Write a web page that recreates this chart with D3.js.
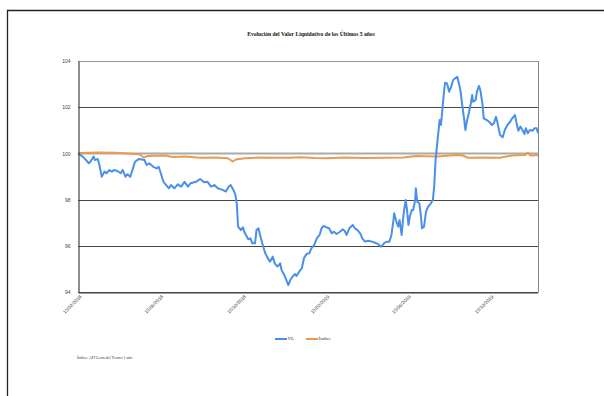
<!DOCTYPE html>
<html>
<head>
<meta charset="utf-8">
<script src="https://cdn.jsdelivr.net/npm/d3@7"></script>
<style>
  body { margin: 0; background: #fff; }
  svg { display: block; }
</style>
</head>
<body>
<script>
// chart data
const title = "Evolución del Valor Liquidativo de los Últimos 5 años";
const footnote = "Índice: AFI Letra del Tesoro 1 año";
const seriesNames = ["VL", "Índice"];
const yTicks = [94, 96, 98, 100, 102, 104];
const xTickDates = ["2018-02-15", "2018-06-15", "2018-10-15", "2019-02-15", "2019-06-15", "2019-10-15"];

const vlDates = [
  "2018-02-15","2018-02-22","2018-02-27","2018-03-03","2018-03-06","2018-03-10","2018-03-12","2018-03-16","2018-03-18","2018-03-22",
  "2018-03-26","2018-03-29","2018-04-02","2018-04-06","2018-04-09","2018-04-14","2018-04-19","2018-04-22","2018-04-26","2018-04-29",
  "2018-05-03","2018-05-07","2018-05-10","2018-05-16","2018-05-24","2018-05-27","2018-05-31","2018-06-06","2018-06-11","2018-06-14",
  "2018-06-17","2018-06-21","2018-06-25","2018-06-29","2018-07-02","2018-07-07","2018-07-12","2018-07-17","2018-07-22","2018-07-27",
  "2018-07-31","2018-08-08","2018-08-14","2018-08-20","2018-08-25","2018-08-30","2018-09-04","2018-09-09","2018-09-16","2018-09-21",
  "2018-09-25","2018-09-28","2018-10-02","2018-10-05","2018-10-07","2018-10-09","2018-10-13","2018-10-16","2018-10-19","2018-10-24",
  "2018-10-27","2018-10-30","2018-11-03","2018-11-05","2018-11-08","2018-11-11","2018-11-15","2018-11-18","2018-11-21","2018-11-25",
  "2018-11-29","2018-12-02","2018-12-06","2018-12-10","2018-12-12","2018-12-16","2018-12-20","2018-12-22","2018-12-25","2018-12-28",
  "2019-01-01","2019-01-03","2019-01-07","2019-01-11","2019-01-14","2019-01-18","2019-01-22","2019-01-25","2019-01-29","2019-02-02",
  "2019-02-06","2019-02-09","2019-02-12","2019-02-16","2019-02-20","2019-02-24","2019-02-27","2019-03-03","2019-03-08","2019-03-12",
  "2019-03-15","2019-03-18","2019-03-22","2019-03-27","2019-03-30","2019-04-03","2019-04-07","2019-04-10","2019-04-14","2019-04-19",
  "2019-04-24","2019-04-29","2019-05-03","2019-05-08","2019-05-12","2019-05-16","2019-05-20","2019-05-23","2019-05-26","2019-05-27",
  "2019-05-30","2019-06-02","2019-06-04","2019-06-07","2019-06-10","2019-06-13","2019-06-15","2019-06-17","2019-06-19","2019-06-22",
  "2019-06-24","2019-06-27","2019-06-28","2019-06-30","2019-07-03","2019-07-05","2019-07-07","2019-07-10","2019-07-13","2019-07-16",
  "2019-07-20","2019-07-23","2019-07-25","2019-07-27","2019-07-29","2019-08-01","2019-08-02","2019-08-04","2019-08-06","2019-08-08",
  "2019-08-10","2019-08-13","2019-08-16","2019-08-19","2019-08-22","2019-08-25","2019-08-28","2019-08-31","2019-09-02","2019-09-04",
  "2019-09-07","2019-09-09","2019-09-11","2019-09-14","2019-09-17","2019-09-19","2019-09-20","2019-09-24","2019-09-26","2019-09-29",
  "2019-10-01","2019-10-04","2019-10-06","2019-10-10","2019-10-14","2019-10-18","2019-10-21","2019-10-24","2019-10-26","2019-10-30",
  "2019-11-03","2019-11-06","2019-11-10","2019-11-14","2019-11-17","2019-11-21","2019-11-23","2019-11-26","2019-11-29","2019-12-02",
  "2019-12-05","2019-12-07","2019-12-10","2019-12-13","2019-12-17","2019-12-20","2019-12-23","2019-12-25"
];
const vlValues = [
  100.00, 99.86, 99.71, 99.57, 99.67, 99.86, 99.71, 99.76, 99.57, 98.99,
  99.21, 99.14, 99.28, 99.21, 99.28, 99.24, 99.14, 99.28, 98.99, 99.10,
  98.99, 99.35, 99.64, 99.76, 99.71, 99.50, 99.57, 99.42, 99.35, 99.42,
  99.14, 98.77, 98.63, 98.49, 98.63, 98.49, 98.66, 98.56, 98.77, 98.56,
  98.71, 98.77, 98.89, 98.75, 98.77, 98.56, 98.63, 98.49, 98.42, 98.35,
  98.56, 98.63, 98.42, 98.20, 97.84, 96.83, 96.68, 96.80, 96.54, 96.28,
  96.32, 96.11, 96.11, 96.68, 96.76, 96.39, 95.96, 95.68, 95.50, 95.31,
  95.53, 95.24, 95.10, 95.24, 94.95, 94.74, 94.45, 94.30, 94.52, 94.66,
  94.78, 94.69, 94.88, 95.03, 95.46, 95.65, 95.68, 95.89, 96.03, 96.32,
  96.47, 96.76, 96.86, 96.80, 96.76, 96.54, 96.61, 96.51, 96.61, 96.71,
  96.65, 96.47, 96.76, 96.90, 96.76, 96.68, 96.54, 96.32, 96.18, 96.22,
  96.18, 96.13, 96.08, 95.96, 96.11, 96.18, 96.18, 96.47, 97.12, 97.41,
  97.07, 96.83, 97.12, 96.47, 97.41, 97.98, 97.55, 96.90, 97.26, 97.55,
  97.55, 97.98, 98.49, 97.91, 97.84, 97.41, 96.76, 96.83, 97.48, 97.69,
  97.84, 97.98, 98.56, 99.71, 100.29, 101.16, 101.45, 101.23, 101.88, 102.53,
  103.06, 103.03, 102.67, 102.89, 103.18, 103.25, 103.32, 102.96, 102.67, 102.17,
  101.52, 101.01, 101.37, 101.74, 102.17, 102.53, 102.24, 102.31, 102.67, 102.92,
  102.74, 102.17, 101.52, 101.45, 101.37, 101.23, 101.30, 101.59, 101.37, 100.80,
  100.70, 101.01, 101.23, 101.37, 101.52, 101.66, 101.37, 100.98, 101.16, 101.01,
  100.84, 101.09, 100.87, 101.01, 100.98, 101.09, 101.09, 100.87
];

const idxDates = [
  "2018-02-15","2018-03-19","2018-04-12","2018-05-10","2018-05-17","2018-05-23","2018-05-29","2018-06-07","2018-06-23","2018-07-05",
  "2018-07-23","2018-08-14","2018-09-05","2018-09-24","2018-10-01","2018-10-06","2018-10-19","2018-11-10","2018-12-02","2018-12-23",
  "2019-01-08","2019-01-30","2019-02-17","2019-03-15","2019-04-15","2019-05-13","2019-06-10","2019-06-28","2019-07-29","2019-08-27",
  "2019-09-04","2019-09-13","2019-09-30","2019-10-30","2019-11-16","2019-12-06","2019-12-10","2019-12-14","2019-12-25"
];
const idxValues = [
  100.02, 100.04, 100.03, 99.97, 99.95, 99.82, 99.89, 99.90, 99.91, 99.84,
  99.87, 99.81, 99.82, 99.79, 99.65, 99.74, 99.79, 99.82, 99.81, 99.81,
  99.83, 99.80, 99.79, 99.82, 99.80, 99.81, 99.82, 99.89, 99.87, 99.93,
  99.92, 99.81, 99.82, 99.81, 99.91, 99.93, 100.03, 99.91, 99.92
];

const colors = ["#4a90e8", "#e89b55"];

const W = 604, H = 396;
const margin = { left: 78, right: 66, top: 61, bottom: 104 };
const parse = d3.timeParse("%Y-%m-%d");
const fmt = d3.timeFormat("%d/%m/%Y");

const svg = d3.select("body").append("svg")
  .attr("width", W)
  .attr("height", H);

// page frame
svg.append("path")
  .attr("d", `M7.5,${H} V10.5 H${W}`)
  .attr("fill", "none")
  .attr("stroke", "#222")
  .attr("stroke-width", 1.3);

svg.append("text")
  .attr("x", 311)
  .attr("y", 35.5)
  .attr("text-anchor", "middle")
  .attr("font-family", "Liberation Serif, serif")
  .attr("font-weight", "bold")
  .attr("font-size", 5.6)
  .attr("fill", "#111")
  .text(title);

const x = d3.scaleTime()
  .domain([parse("2018-02-15"), parse("2019-12-25")])
  .range([margin.left, W - margin.right]);
const y = d3.scaleLinear()
  .domain([94, 104])
  .range([H - margin.bottom, margin.top]);

const plot = svg.append("g");

// horizontal grid
plot.selectAll("line.grid")
  .data(yTicks)
  .join("line")
  .attr("class", "grid")
  .attr("x1", margin.left)
  .attr("x2", W - margin.right)
  .attr("y1", d => Math.round(y(d)) + 0.5)
  .attr("y2", d => Math.round(y(d)) + 0.5)
  .attr("stroke", d => d === 100 ? "#aaa" : d === 104 ? "#999" : "#444")
  .attr("stroke-width", d => d === 100 ? 2 : 1);

// right border
plot.append("line")
  .attr("x1", W - margin.right + 0.5).attr("x2", W - margin.right + 0.5)
  .attr("y1", margin.top).attr("y2", H - margin.bottom)
  .attr("stroke", "#888");

// y axis
const yAxis = d3.axisLeft(y).tickValues(yTicks).tickSize(0).tickPadding(8);
svg.append("g")
  .attr("transform", `translate(${margin.left + 0.5},0)`)
  .call(yAxis)
  .call(g => g.select(".domain").attr("stroke", "#444").attr("stroke-width", 1.2))
  .call(g => g.selectAll("text")
    .attr("font-family", "Liberation Sans, Arial, sans-serif")
    .attr("font-size", 5)
    .attr("fill", "#444"));

// x axis, labels redrawn diagonally
const xAxis = d3.axisBottom(x)
  .tickValues(xTickDates.map(parse))
  .tickFormat(fmt)
  .tickSize(0);
svg.append("g")
  .attr("transform", `translate(0,${Math.round(y(94)) + 0.5})`)
  .call(xAxis)
  .call(g => g.select(".domain").attr("stroke", "#444").attr("stroke-width", 1.2))
  .call(g => g.selectAll(".tick text")
    .attr("x", null)
    .attr("y", null)
    .attr("dy", null)
    .attr("font-family", "Liberation Sans, Arial, sans-serif")
    .attr("font-size", 4.8)
    .attr("fill", "#444")
    .attr("text-anchor", "end")
    .attr("transform", "translate(3.5,4.5) rotate(-45)"));

const line = d3.line()
  .x(d => x(d[0]))
  .y(d => y(d[1]));

const idxData = idxDates.map((d, i) => [parse(d), idxValues[i]]);
const vlData = vlDates.map((d, i) => [parse(d), vlValues[i]]);

plot.append("path")
  .datum(idxData)
  .attr("fill", "none")
  .attr("stroke", colors[1])
  .attr("stroke-width", 2)
  .attr("stroke-linejoin", "round")
  .attr("d", line);

plot.append("path")
  .datum(vlData)
  .attr("fill", "none")
  .attr("stroke", colors[0])
  .attr("stroke-width", 2)
  .attr("stroke-linejoin", "round")
  .attr("d", line);

// legend
const legendX = [275, 306];
const legend = svg.append("g")
  .selectAll("g")
  .data(seriesNames)
  .join("g")
  .attr("transform", (d, i) => `translate(${legendX[i]},339)`);
legend.append("line")
  .attr("x1", 0).attr("x2", 12)
  .attr("stroke", (d, i) => colors[i])
  .attr("stroke-width", 2);
legend.append("text")
  .attr("x", 12.5)
  .attr("y", 0)
  .attr("dy", "0.1em")
  .attr("font-family", "Liberation Serif, serif")
  .attr("font-size", 5)
  .attr("fill", "#333")
  .text(d => d);

svg.append("text")
  .attr("x", 77)
  .attr("y", 359)
  .attr("font-family", "Liberation Serif, serif")
  .attr("font-size", 4)
  .attr("fill", "#333")
  .text(footnote);
</script>
</body>
</html>
